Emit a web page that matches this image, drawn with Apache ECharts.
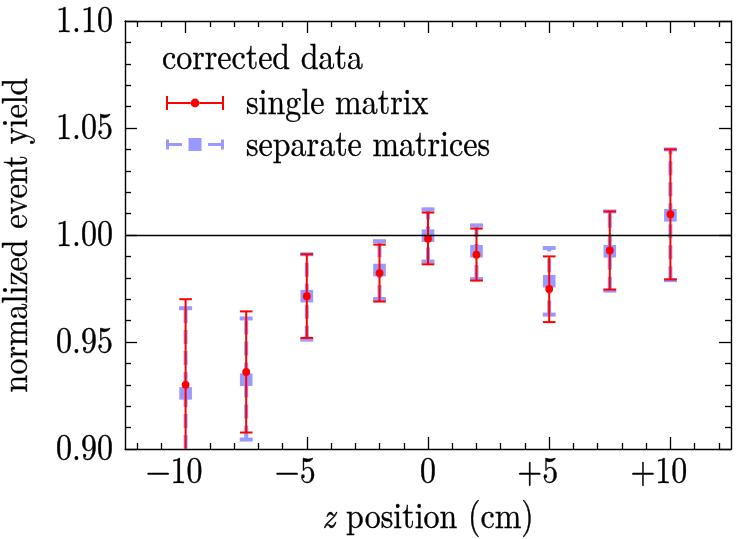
<!DOCTYPE html>
<html>
<head>
<meta charset="utf-8">
<script src="https://cdn.jsdelivr.net/npm/echarts@6/dist/echarts.min.js"></script>
<style>
  html, body { margin: 0; padding: 0; background: #fff; }
  #chart { width: 748px; height: 539px; }
  #preload { position: absolute; left: -2000px; top: 0; font-family: "Latin Modern Roman"; font-size: 32px; }
</style>
</head>
<body>
<div id="chart"></div>
<span id="preload">corrected data 0123456789.+− <i>z</i> position (cm)</span>
<script>
// z positions (cm)
const zPos = [-10, -7.5, -5, -2, 0, 2, 5, 7.5, 10];

// single matrix: value, lower and upper end of the error bar
const singleY  = [0.930, 0.936, 0.9714, 0.9822, 0.9983, 0.9908, 0.9748, 0.9928, 1.0097];
const singleLo = [0.890, 0.9077, 0.9519, 0.9689, 0.9863, 0.9787, 0.9593, 0.9745, 0.9792];
const singleHi = [0.970, 0.9643, 0.9910, 0.9955, 1.0105, 1.0030, 0.9900, 1.0110, 1.0400];

// separate matrices
const sepY  = [0.926, 0.9324, 0.9714, 0.9836, 0.9997, 0.9924, 0.9784, 0.9924, 1.0092];
const sepLo = [0.886, 0.9044, 0.9511, 0.9701, 0.9876, 0.9794, 0.9628, 0.9740, 0.9789];
const sepHi = [0.9658, 0.9610, 0.9910, 0.9971, 1.0120, 1.0045, 0.9939, 1.0110, 1.0400];

// ticks
const xMajorTicks = [-10, -5, 0, 5, 10];
const xMinorTicks = [-12, -11, -9, -8, -7, -6, -4, -3, -2, -1, 1, 2, 3, 4, 6, 7, 8, 9, 11, 12];
const refLevel = 1.0;

const RED = '#ff0000';
const BLUE = '#9999ff';
const FONT = '"Latin Modern Roman", "Liberation Serif", serif';
const FS = 32;

const rows = (ys, los, his) => zPos.map((z, i) => [z, ys[i], los[i], his[i]]);

function errorBar(kind) {
  return function (params, api) {
    const x = api.value(0);
    const c = api.coord([x, api.value(1)]);
    const lo = api.coord([x, api.value(2)]);
    const hi = api.coord([x, api.value(3)]);
    const cs = params.coordSys;
    const yBottom = cs.y + cs.height;
    const clipped = lo[1] > yBottom;
    const loY = Math.min(lo[1], yBottom);
    const children = [];
    if (kind === 'sep') {
      const hw = 6.5;
      children.push({ type: 'line', shape: { x1: c[0], y1: loY, x2: c[0], y2: hi[1] },
        style: { stroke: BLUE, lineWidth: 4, lineDash: [14, 7] } });
      children.push({ type: 'line', shape: { x1: c[0] - hw, y1: hi[1], x2: c[0] + hw, y2: hi[1] },
        style: { stroke: BLUE, lineWidth: 4 } });
      if (!clipped) children.push({ type: 'line', shape: { x1: c[0] - hw, y1: loY, x2: c[0] + hw, y2: loY },
        style: { stroke: BLUE, lineWidth: 4 } });
      children.push({ type: 'rect', shape: { x: c[0] - 6.3, y: c[1] - 6.3, width: 12.6, height: 12.6 },
        style: { fill: BLUE } });
    } else {
      const hw = 6.3;
      children.push({ type: 'line', shape: { x1: c[0], y1: loY, x2: c[0], y2: hi[1] },
        style: { stroke: RED, lineWidth: 2 } });
      children.push({ type: 'line', shape: { x1: c[0] - hw, y1: hi[1], x2: c[0] + hw, y2: hi[1] },
        style: { stroke: RED, lineWidth: 2 } });
      if (!clipped) children.push({ type: 'line', shape: { x1: c[0] - hw, y1: loY, x2: c[0] + hw, y2: loY },
        style: { stroke: RED, lineWidth: 2 } });
      children.push({ type: 'circle', shape: { cx: c[0], cy: c[1], r: 3.9 }, style: { fill: RED } });
    }
    return { type: 'group', children: children };
  };
}

// legend glyphs (error bar look-alikes)
const redIcon = 'path://M0 0h2v14h-2zM2 6h22.5v2h-22.5zM33.5 6h22.5v2h-22.5zM56 0h2v14h-2z' +
  'M24.6 7a4.4 4.4 0 1 1 8.8 0a4.4 4.4 0 1 1 -8.8 0z';
const blueIcon = 'path://M0 2h3v10h-3zM3 5.5h13v3h-13zM22.5 0.5h13v13h-13zM42 5.5h13v3h-13zM55 2h3v10h-3z';

const tickStyle = { color: '#000', width: 1.3 };
const axisLineStyle = { color: '#000', width: 1.4 };

const xBase = {
  type: 'value', min: -12.5, max: 12.5,
  splitLine: { show: false },
  axisLine: { show: false }
};

// signed labels keep room for a phantom sign on the right, like the original
const xLabelFormat = v => {
  if (v === 0) return '0';
  return '{s|' + (v > 0 ? '+' + v : '\u2212' + Math.abs(v)) + '}';
};

const xAxes = [
  Object.assign({}, xBase, {
    position: 'bottom',
    axisLine: { show: true, onZero: false, lineStyle: axisLineStyle },
    axisTick: { inside: true, length: 12, lineStyle: tickStyle, customValues: xMajorTicks },
    axisLabel: {
      customValues: xMajorTicks, margin: 7, color: '#000', fontFamily: FONT, fontSize: FS,
      formatter: xLabelFormat,
      rich: { s: { fontFamily: FONT, fontSize: FS, color: '#000', padding: [0, 23, 0, 0] } }
    },
    name: '{i|z} position (cm)', nameLocation: 'middle', nameGap: 52,
    nameTextStyle: { color: '#000', fontFamily: FONT, fontSize: FS,
      rich: { i: { fontStyle: 'italic', fontFamily: FONT, fontSize: FS, color: '#000' } } }
  }),
  Object.assign({}, xBase, {
    position: 'bottom',
    axisTick: { inside: true, length: 6, lineStyle: tickStyle, customValues: xMinorTicks },
    axisLabel: { show: false }
  }),
  Object.assign({}, xBase, {
    position: 'top',
    axisLine: { show: true, onZero: false, lineStyle: axisLineStyle },
    axisTick: { inside: true, length: 12, lineStyle: tickStyle, customValues: xMajorTicks },
    axisLabel: { show: false }
  }),
  Object.assign({}, xBase, {
    position: 'top',
    axisTick: { inside: true, length: 6, lineStyle: tickStyle, customValues: xMinorTicks },
    axisLabel: { show: false }
  })
];

const yBase = {
  type: 'value', min: 0.9, max: 1.1, interval: 0.05,
  splitLine: { show: false },
  axisLine: { show: true, onZero: false, lineStyle: axisLineStyle },
  axisTick: { inside: true, length: 12, lineStyle: tickStyle },
  minorTick: { show: true, splitNumber: 5, length: 6, lineStyle: tickStyle },
  minorSplitLine: { show: false }
};

const yAxes = [
  Object.assign({}, yBase, {
    position: 'left',
    axisLabel: { margin: 12, color: '#000', fontFamily: FONT, fontSize: FS, formatter: v => v.toFixed(2) },
    name: 'normalized event yield', nameLocation: 'middle', nameGap: 93,
    nameTextStyle: { color: '#000', fontFamily: FONT, fontSize: FS }
  }),
  Object.assign({}, yBase, {
    position: 'right',
    axisLabel: { show: false }
  })
];

// the original's TeX text is taller and a bit heavier than the plain font:
// stretch each text span about its own centre, perpendicular to its baseline
function texLook(chart, k) {
  const zr = chart.getZr();
  zr.storage.getDisplayList(true).forEach(el => {
    if (el.type !== 'tspan') return;
    const r = el.getBoundingRect();
    el.originX = r.x + r.width / 2;
    el.originY = r.y + r.height / 2;
    el.scaleY = k;
    el.style.stroke = el.style.fill;
    el.style.lineWidth = 0.35;
    el.markRedraw();
  });
  zr.refreshImmediately();
}

function draw() {
  const chart = echarts.init(document.getElementById('chart'), null, { renderer: 'canvas' });
  chart.setOption({
    animation: false,
    backgroundColor: '#fff',
    textStyle: { fontFamily: FONT },
    grid: { left: 125, right: 17, top: 21, bottom: 90, containLabel: false, outerBoundsMode: 'none' },
    title: {
      text: 'corrected data', left: 162, top: 42, padding: 0,
      textStyle: { fontFamily: FONT, fontSize: FS, fontWeight: 'normal', color: '#000' }
    },
    legend: {
      orient: 'vertical', left: 166, top: 87, padding: 0, itemGap: 9.5,
      itemWidth: 58, itemHeight: 14, selectedMode: false,
      textStyle: { fontFamily: FONT, fontSize: FS, lineHeight: 32, color: '#000', padding: [0, 0, 0, 17] },
      data: [
        { name: 'single matrix', icon: redIcon, itemStyle: { color: RED, borderWidth: 0 } },
        { name: 'separate matrices', icon: blueIcon, itemStyle: { color: BLUE, borderWidth: 0 } }
      ]
    },
    xAxis: xAxes,
    yAxis: yAxes,
    series: [
      {
        type: 'line', data: [], silent: true, z: 1,
        markLine: {
          silent: true, symbol: 'none', label: { show: false },
          lineStyle: { color: '#000', width: 1.4, type: 'solid' },
          data: [{ yAxis: refLevel }]
        }
      },
      {
        name: 'separate matrices', type: 'custom', z: 2, clip: true, silent: true,
        itemStyle: { color: BLUE },
        encode: { x: 0, y: 1 },
        renderItem: errorBar('sep'),
        data: rows(sepY, sepLo, sepHi)
      },
      {
        name: 'single matrix', type: 'custom', z: 3, clip: true, silent: true,
        itemStyle: { color: RED },
        encode: { x: 0, y: 1 },
        renderItem: errorBar('single'),
        data: rows(singleY, singleLo, singleHi)
      }
    ]
  });
  texLook(chart, 1.15);
}

// force the system font to be loaded before the canvas text is drawn
document.getElementById('preload').offsetWidth;
draw();
</script>
</body>
</html>
